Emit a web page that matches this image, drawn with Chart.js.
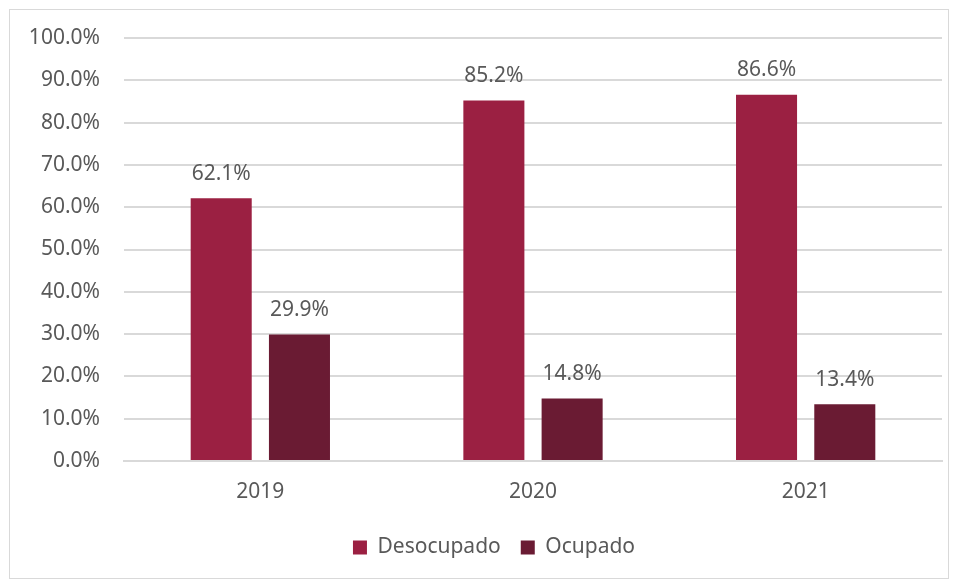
<!DOCTYPE html>
<html>
<head>
<meta charset="utf-8">
<script src="https://cdn.jsdelivr.net/npm/chart.js@4.4.1/dist/chart.umd.min.js"></script>
<style>
    body { margin: 0; background: #ffffff; }
    #frame {
        position: absolute;
        left: 9px; top: 9px;
        width: 938px; height: 568px;
        border: 1px solid #d9d9d9;
    }
    #frame canvas { display: block; }
</style>
</head>
<body>
<div id="frame"><canvas id="chart" width="938" height="568"></canvas></div>
<script>
// Chart data
const years = ['2019', '2020', '2021'];
const desocupado = [62.1, 85.2, 86.6];
const ocupado = [29.9, 14.8, 13.4];
const yTicks = [0, 10, 20, 30, 40, 50, 60, 70, 80, 90, 100];

const FONT = '"Noto Sans", sans-serif';
const TEXT = '#595959';

// Writes the value above each bar
const valueLabels = {
    id: 'valueLabels',
    afterDatasetsDraw(chart) {
        const ctx = chart.ctx;
        ctx.save();
        ctx.font = '21px ' + FONT;
        ctx.fillStyle = TEXT;
        ctx.textAlign = 'center';
        ctx.textBaseline = 'bottom';
        chart.data.datasets.forEach((ds, i) => {
            chart.getDatasetMeta(i).data.forEach((bar, j) => {
                ctx.fillText(ds.data[j].toFixed(1) + '%', bar.x, bar.y - 14);
            });
        });
        ctx.restore();
    }
};

// Nudges the legend a bit to the right, like in the original
const legendShift = {
    id: 'legendShift',
    afterLayout(chart) {
        if (chart.legend) {
            chart.legend.left += 18;
            chart.legend.right += 18;
        }
    }
};

new Chart(document.getElementById('chart'), {
    type: 'bar',
    data: {
        labels: years,
        datasets: [
            { label: 'Desocupado', data: desocupado, backgroundColor: '#9b2042' },
            { label: 'Ocupado', data: ocupado, backgroundColor: '#6a1b33' }
        ]
    },
    options: {
        responsive: false,
        animation: false,
        categoryPercentage: 0.574,
        barPercentage: 0.78,
        layout: { padding: { top: 28, right: 6, left: 0, bottom: 10 } },
        plugins: {
            tooltip: { enabled: false },
            legend: {
                position: 'bottom',
                labels: {
                    color: TEXT,
                    font: { family: FONT, size: 21 },
                    boxWidth: 14,
                    boxHeight: 14,
                    padding: 20
                }
            }
        },
        scales: {
            x: {
                grid: { display: false },
                border: { color: '#d9d9d9', width: 2 },
                ticks: { color: TEXT, font: { family: FONT, size: 21 }, padding: 10 },
                afterFit(scale) { scale.height = 56; }
            },
            y: {
                min: 0,
                max: 100,
                afterBuildTicks(scale) { scale.ticks = yTicks.map(v => ({ value: v })); },
                grid: { color: '#d9d9d9', lineWidth: 2, drawTicks: false },
                border: { display: false },
                ticks: {
                    color: TEXT,
                    font: { family: FONT, size: 21 },
                    padding: 24,
                    callback: v => v.toFixed(1) + '%'
                },
                afterFit(scale) {
                    scale.width = 114;
                    scale.paddingTop = 0;
                    scale.paddingBottom = 0;
                }
            }
        }
    },
    plugins: [valueLabels, legendShift]
});
</script>
</body>
</html>
